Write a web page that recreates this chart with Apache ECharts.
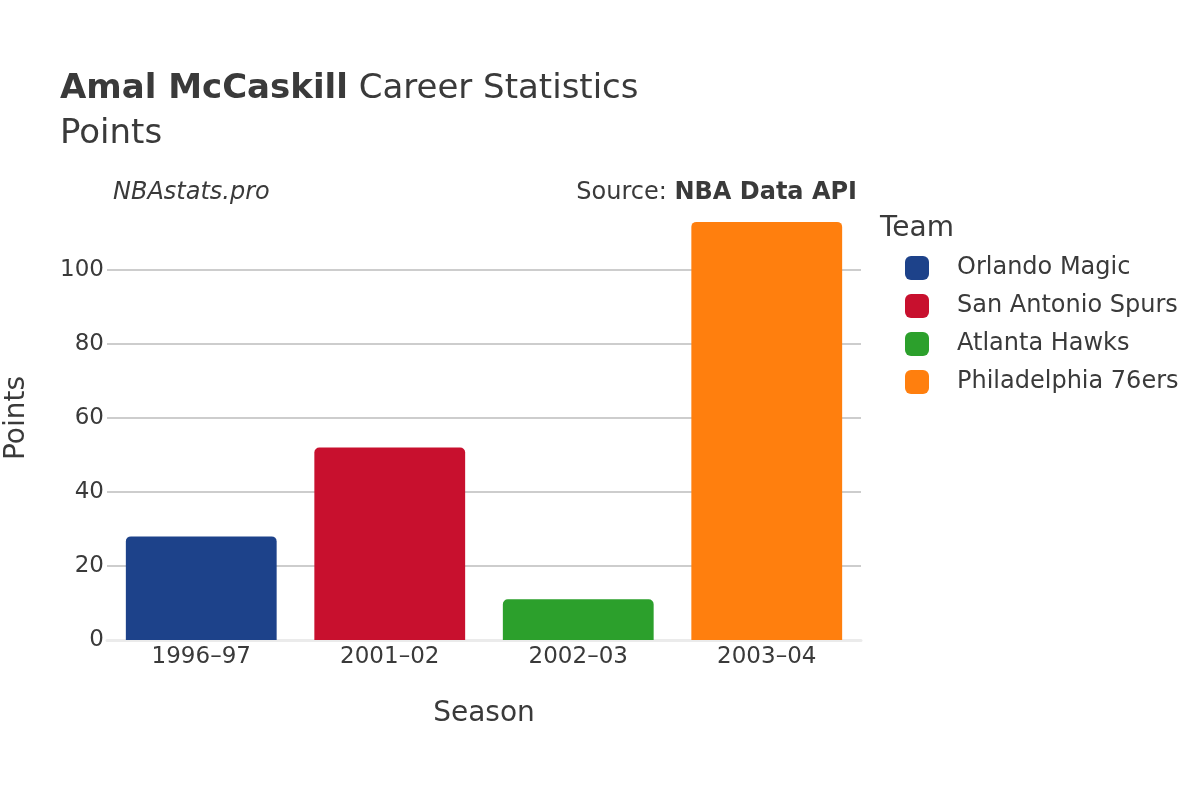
<!DOCTYPE html>
<html lang="en">
  <head>
    <meta charset="UTF-8" />
    <title>Amal McCaskill Career Statistics</title>
    <style>
      body {
        margin: 0;
        padding: 0;
        background-color: #fff;
      }
      #container {
        width: 1200px;
        height: 800px;
      }
    </style>
  </head>
  <body>
    <div id="container"></div>

    <script src="https://cdn.jsdelivr.net/npm/echarts@6/dist/echarts.min.js"></script>
    <script>
      // data
      const seasons = ["1996–97", "2001–02", "2002–03", "2003–04"];
      const teams = [
        "Orlando Magic",
        "San Antonio Spurs",
        "Atlanta Hawks",
        "Philadelphia 76ers",
      ];
      const points = [28, 52, 11, 113];
      const teamColors = ["#1d428a", "#c8102e", "#2ca02c", "#ff7f0e"];
      const yTicks = [0, 20, 40, 60, 80, 100, 120];

      const font = "DejaVu Sans";
      const textColor = "#3a3a3a";

      var chart = echarts.init(document.getElementById("container"));

      // one series per team, each bar only in its own season
      const series = teams.map((team, i) => ({
        name: team,
        type: "bar",
        stack: "all",
        barCategoryGap: "20%",
        data: seasons.map((s, j) => (j === i ? points[i] : "-")),
        itemStyle: { color: teamColors[i], borderRadius: [5, 5, 0, 0] },
      }));

      const option = {
        backgroundColor: "#fff",
        textStyle: { fontFamily: font, color: textColor },
        title: [
          {
            text: "{b|Amal McCaskill} Career Statistics",
            left: 55,
            top: 67,
            textStyle: {
              fontFamily: font,
              fontSize: 34,
              fontWeight: "normal",
              color: textColor,
              rich: {
                b: {
                  fontFamily: font,
                  fontSize: 34,
                  fontWeight: "bold",
                  color: textColor,
                },
              },
            },
          },
          {
            text: "Points",
            left: 55,
            top: 112,
            textStyle: {
              fontFamily: font,
              fontSize: 34,
              fontWeight: "normal",
              color: textColor,
            },
          },
          {
            text: "NBAstats.pro",
            left: 108,
            top: 176,
            textStyle: {
              fontFamily: font,
              fontSize: 24,
              fontStyle: "italic",
              fontWeight: "normal",
              color: textColor,
            },
          },
          {
            text: "Source: {b|NBA Data API}",
            right: 338,
            top: 176,
            textStyle: {
              fontFamily: font,
              fontSize: 24,
              fontWeight: "normal",
              color: textColor,
              rich: {
                b: {
                  fontFamily: font,
                  fontSize: 24,
                  fontWeight: "bold",
                  color: textColor,
                },
              },
            },
          },
          {
            text: "Team",
            left: 875,
            top: 210,
            textStyle: {
              fontFamily: font,
              fontSize: 28,
              fontWeight: "normal",
              color: textColor,
            },
          },
        ],
        legend: {
          orient: "vertical",
          left: 900,
          top: 251,
          itemWidth: 24,
          itemHeight: 24,
          itemGap: 14,
          icon: "roundRect",
          data: teams,
          textStyle: {
            fontFamily: font,
            fontSize: 24,
            color: textColor,
            padding: [0, 0, 0, 23],
          },
        },
        grid: {
          left: 107,
          right: 339,
          top: 196,
          bottom: 160,
          outerBoundsMode: "none",
          containLabel: false,
        },
        xAxis: {
          type: "category",
          data: seasons,
          name: "Season",
          nameLocation: "middle",
          nameGap: 60,
          nameTextStyle: { fontFamily: font, fontSize: 28, color: textColor },
          axisLine: { show: true, lineStyle: { color: "#ebebeb", width: 3 } },
          axisTick: { show: false },
          axisLabel: {
            fontFamily: font,
            fontSize: 23,
            color: textColor,
            margin: 6,
          },
        },
        yAxis: {
          type: "value",
          min: 0,
          max: 120,
          interval: 20,
          name: "Points",
          nameLocation: "middle",
          nameGap: 76,
          nameTextStyle: { fontFamily: font, fontSize: 28, color: textColor },
          axisLine: { show: false },
          axisTick: { show: false },
          axisLabel: {
            fontFamily: font,
            fontSize: 23,
            color: textColor,
            margin: 3,
            formatter: (v) => (yTicks.indexOf(v) < yTicks.length - 1 ? v : ""),
          },
          splitLine: {
            show: true,
            lineStyle: {
              color: yTicks.map((t, i) =>
                i === 0 || i === yTicks.length - 1 ? "rgba(0,0,0,0)" : "#bdbdbd"
              ),
              width: 1.5,
            },
          },
        },
        series: series,
      };

      chart.setOption(option);
    </script>
  </body>
</html>
